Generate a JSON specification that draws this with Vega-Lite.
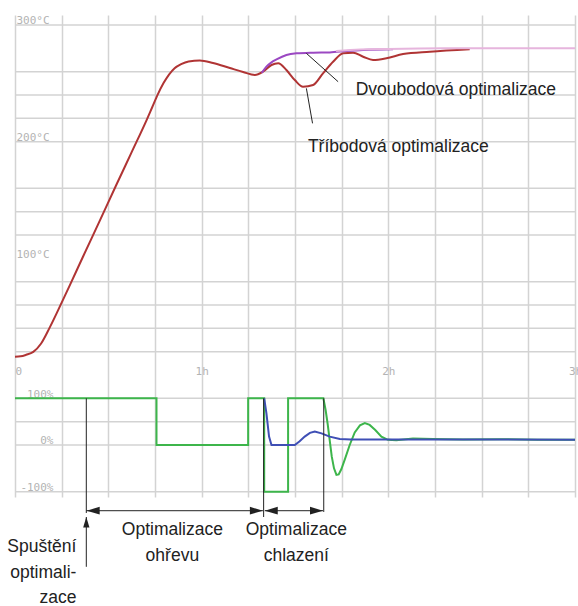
{
  "$schema": "https://vega.github.io/schema/vega-lite/v6.json",
  "width": 560,
  "height": 482,
  "autosize": "none",
  "padding": {"left": 15, "top": 15, "right": 3, "bottom": 109},
  "background": "white",
  "config": {"view": {"stroke": null}},
  "datasets": {
    "temp": [
      {"h": 0, "t": 15.7, "s": "three"}, {"h": 0.03, "t": 16, "s": "three"}, {"h": 0.06, "t": 17.3, "s": "three"},
      {"h": 0.098, "t": 19.8, "s": "three"}, {"h": 0.14, "t": 27, "s": "three"}, {"h": 0.187, "t": 41, "s": "three"},
      {"h": 0.25, "t": 62, "s": "three"}, {"h": 0.294, "t": 77, "s": "three"}, {"h": 0.366, "t": 102, "s": "three"},
      {"h": 0.455, "t": 132.5, "s": "three"}, {"h": 0.54, "t": 162, "s": "three"}, {"h": 0.625, "t": 191, "s": "three"},
      {"h": 0.705, "t": 218.5, "s": "three"}, {"h": 0.735, "t": 229.5, "s": "three"}, {"h": 0.765, "t": 240.5, "s": "three"},
      {"h": 0.795, "t": 250, "s": "three"}, {"h": 0.825, "t": 257.5, "s": "three"}, {"h": 0.855, "t": 263, "s": "three"},
      {"h": 0.89, "t": 266.5, "s": "three"}, {"h": 0.93, "t": 268.8, "s": "three"}, {"h": 0.99, "t": 269.6, "s": "three"},
      {"h": 1.061, "t": 267.4, "s": "three"}, {"h": 1.151, "t": 263.1, "s": "three"}, {"h": 1.222, "t": 259.7, "s": "three"},
      {"h": 1.285, "t": 257.1, "s": "three"}, {"h": 1.329, "t": 260, "s": "three"}, {"h": 1.374, "t": 265.7, "s": "three"},
      {"h": 1.41, "t": 267.2, "s": "three"}, {"h": 1.454, "t": 261.4, "s": "three"}, {"h": 1.499, "t": 252.8, "s": "three"},
      {"h": 1.543, "t": 247.1, "s": "three"}, {"h": 1.597, "t": 248.6, "s": "three"}, {"h": 1.65, "t": 258.6, "s": "three"},
      {"h": 1.704, "t": 268.5, "s": "three"}, {"h": 1.758, "t": 275.7, "s": "three"}, {"h": 1.811, "t": 276.3, "s": "three"},
      {"h": 1.865, "t": 272.8, "s": "three"}, {"h": 1.918, "t": 270, "s": "three"}, {"h": 1.99, "t": 271.5, "s": "three"},
      {"h": 2.079, "t": 275.1, "s": "three"}, {"h": 2.222, "t": 277.1, "s": "three"}, {"h": 2.436, "t": 279.2, "s": "three"},
      {"h": 1.322, "t": 259, "s": "two"}, {"h": 1.347, "t": 264.3, "s": "two"}, {"h": 1.374, "t": 268, "s": "two"},
      {"h": 1.401, "t": 270.5, "s": "two"}, {"h": 1.454, "t": 274.3, "s": "two"}, {"h": 1.508, "t": 275.7, "s": "two"},
      {"h": 1.597, "t": 276.3, "s": "two"}, {"h": 1.686, "t": 276.5, "s": "two"}, {"h": 1.776, "t": 277.7, "s": "two"},
      {"h": 1.865, "t": 278.6, "s": "two"}, {"h": 2.025, "t": 279.2, "s": "two"},
      {"h": 1.72, "t": 277.8, "s": "set"}, {"h": 1.85, "t": 279, "s": "set"}, {"h": 2.0, "t": 279.5, "s": "set"},
      {"h": 2.3, "t": 280, "s": "set"}, {"h": 3.0, "t": 280, "s": "set"}
    ],
    "out": [
      {"h": 0, "p": 100, "s": "three"}, {"h": 0.758, "p": 100, "s": "three"}, {"h": 0.758, "p": 0, "s": "three"},
      {"h": 1.249, "p": 0, "s": "three"}, {"h": 1.249, "p": 100, "s": "three"}, {"h": 1.335, "p": 100, "s": "three"},
      {"h": 1.335, "p": -100, "s": "three"}, {"h": 1.463, "p": -100, "s": "three"}, {"h": 1.463, "p": 100, "s": "three"},
      {"h": 1.652, "p": 100, "s": "three"}, {"h": 1.664, "p": 75, "s": "three"}, {"h": 1.675, "p": 45, "s": "three"},
      {"h": 1.686, "p": 10, "s": "three"}, {"h": 1.697, "p": -25, "s": "three"}, {"h": 1.709, "p": -50, "s": "three"},
      {"h": 1.722, "p": -64, "s": "three"}, {"h": 1.734, "p": -63, "s": "three"}, {"h": 1.748, "p": -52, "s": "three"},
      {"h": 1.766, "p": -32, "s": "three"}, {"h": 1.793, "p": 0, "s": "three"}, {"h": 1.82, "p": 27, "s": "three"},
      {"h": 1.848, "p": 42, "s": "three"}, {"h": 1.874, "p": 47, "s": "three"}, {"h": 1.9, "p": 43, "s": "three"},
      {"h": 1.93, "p": 32, "s": "three"}, {"h": 1.963, "p": 18, "s": "three"}, {"h": 1.998, "p": 11, "s": "three"},
      {"h": 2.043, "p": 10, "s": "three"}, {"h": 2.132, "p": 14, "s": "three"}, {"h": 2.239, "p": 13, "s": "three"},
      {"h": 2.4, "p": 12, "s": "three"}, {"h": 2.6, "p": 12.5, "s": "three"}, {"h": 2.8, "p": 11.5, "s": "three"},
      {"h": 3.0, "p": 11, "s": "three"},
      {"h": 1.335, "p": 100, "s": "two"}, {"h": 1.347, "p": 68, "s": "two"}, {"h": 1.361, "p": 18, "s": "two"},
      {"h": 1.374, "p": 0, "s": "two"}, {"h": 1.499, "p": 0, "s": "two"}, {"h": 1.525, "p": 8, "s": "two"},
      {"h": 1.552, "p": 18, "s": "two"}, {"h": 1.58, "p": 26, "s": "two"}, {"h": 1.606, "p": 29, "s": "two"},
      {"h": 1.642, "p": 25, "s": "two"}, {"h": 1.686, "p": 18, "s": "two"}, {"h": 1.74, "p": 13, "s": "two"},
      {"h": 1.8, "p": 12, "s": "two"}, {"h": 2.0, "p": 12, "s": "two"}, {"h": 2.5, "p": 12, "s": "two"},
      {"h": 3.0, "p": 11, "s": "two"}
    ],
    "grid": [
      {"t": 300}, {"t": 260}, {"t": 240}, {"t": 220}, {"t": 200}, {"t": 160}, {"t": 140}, {"t": 120},
      {"t": 80}, {"t": 60}, {"t": 40}, {"t": 20}, {"t": -20}, {"t": -40}, {"t": -60}, {"t": -100}
    ]
  },
  "layer": [
    {
      "layer": [
        {
          "data": {"name": "grid"},
          "mark": {"type": "rule", "color": "#d3d3d3", "strokeWidth": 1.5},
          "encoding": {
            "y": {"field": "t", "type": "quantitative",
              "scale": {"domain": [-104.571, 308.571], "nice": false, "zero": false},
              "axis": {
                "values": [100, 200, 300],
                "labelExpr": "datum.value + '°C'",
                "title": null, "domain": false, "ticks": false, "grid": false,
                "labelPadding": -1, "labelAlign": "left", "labelBaseline": "alphabetic", "labelOffset": -1,
                "labelFont": "DejaVu Sans Mono", "labelFontSize": 11, "labelColor": "#b3b3b3",
                "labelOverlap": false, "labelBound": false, "labelFlush": false
              }
            }
          }
        },
        {
          "data": {"name": "temp"},
          "mark": {"type": "line", "strokeWidth": 2, "interpolate": "monotone"},
          "encoding": {
            "x": {"field": "h", "type": "quantitative",
              "scale": {"domain": [0, 3], "nice": false, "zero": false},
              "axis": {
                "values": [0, 0.25, 0.5, 0.75, 1, 1.25, 1.5, 1.75, 2, 2.25, 2.5, 2.75, 3],
                "labelExpr": "datum.value == 0 ? '0' : (datum.value % 1 == 0 ? datum.value + 'h' : '')",
                "title": null, "domain": false, "ticks": false, "grid": true,
                "gridColor": "#d3d3d3", "gridWidth": 1.5,
                "offset": -123, "labelPadding": 0, "labelBaseline": "alphabetic",
                "labelAlign": {"condition": {"test": "datum.value == 0", "value": "left"}, "value": "center"},
                "labelFont": "DejaVu Sans Mono", "labelFontSize": 11, "labelColor": "#b3b3b3",
                "labelOverlap": false, "labelBound": false, "labelFlush": false
              }
            },
            "y": {"field": "t", "type": "quantitative"},
            "color": {"field": "s", "type": "nominal",
              "scale": {"domain": ["set", "three", "two"], "range": ["#e6b5dd", "#b03434", "#9b48c2"]},
              "legend": null}
          }
        },
        {
          "data": {"values": [
            {"h": 1.561, "t": 275.7, "h2": 1.731, "t2": 251.4},
            {"h": 1.561, "t": 245.7, "h2": 1.594, "t2": 215.7}
          ]},
          "mark": {"type": "rule", "color": "#222222", "strokeWidth": 1},
          "encoding": {
            "x": {"field": "h", "type": "quantitative"},
            "x2": {"field": "h2"},
            "y": {"field": "t", "type": "quantitative"},
            "y2": {"field": "t2"}
          }
        },
        {
          "data": {"values": [
            {"h": 1.825, "t": 240, "label": "Dvoubodová optimalizace"},
            {"h": 1.569, "t": 191.4, "label": "Tříbodová optimalizace"}
          ]},
          "mark": {"type": "text", "align": "left", "baseline": "alphabetic", "font": "Liberation Sans", "fontSize": 17.5, "color": "#222222"},
          "encoding": {
            "x": {"field": "h", "type": "quantitative"},
            "y": {"field": "t", "type": "quantitative"},
            "text": {"field": "label"}
          }
        }
      ]
    },
    {
      "layer": [
        {
          "data": {"name": "out"},
          "mark": {"type": "line", "strokeWidth": 2},
          "encoding": {
            "x": {"field": "h", "type": "quantitative"},
            "y": {"field": "p", "type": "quantitative",
              "scale": {"domain": [-111.43, 921.43], "nice": false, "zero": false},
              "axis": {
                "orient": "left",
                "values": [100, 0, -100],
                "labelExpr": "datum.value + '%'",
                "title": null, "domain": false, "ticks": false, "grid": false,
                "labelPadding": -38, "labelAlign": "right", "labelBaseline": "alphabetic", "labelOffset": -1,
                "labelFont": "DejaVu Sans Mono", "labelFontSize": 11, "labelColor": "#b3b3b3",
                "labelOverlap": false, "labelBound": false, "labelFlush": false
              }
            },
            "color": {"field": "s", "type": "nominal",
              "scale": {"domain": ["three", "two"], "range": ["#3db54b", "#3f4fb5"]},
              "legend": null},
            "order": {"value": null}
          }
        },
        {
          "data": {"values": [
            {"h": 0.382, "p": 100, "p2": -145.7},
            {"h": 1.332, "p": 100, "p2": -154.3},
            {"h": 1.654, "p": 100, "p2": -143.5},
            {"h": 0.382, "p": -154.3, "p2": -261}
          ]},
          "mark": {"type": "rule", "color": "#222222", "strokeWidth": 1},
          "encoding": {
            "x": {"field": "h", "type": "quantitative"},
            "y": {"field": "p", "type": "quantitative"},
            "y2": {"field": "p2"}
          }
        },
        {
          "data": {"values": [
            {"h": 0.382, "h2": 1.328, "p": -140.8},
            {"h": 1.338, "h2": 1.650, "p": -140.8}
          ]},
          "mark": {"type": "rule", "color": "#222222", "strokeWidth": 1},
          "encoding": {
            "x": {"field": "h", "type": "quantitative"},
            "x2": {"field": "h2"},
            "y": {"field": "p", "type": "quantitative"}
          }
        },
        {
          "data": {"values": [{"h": 0.384, "p": -140.8}, {"h": 1.338, "p": -140.8}]},
          "mark": {"type": "point", "shape": "M0,0L2,-0.6L2,0.6Z", "size": 169, "filled": true, "opacity": 1, "color": "#222222", "strokeWidth": 0},
          "encoding": {
            "x": {"field": "h", "type": "quantitative"},
            "y": {"field": "p", "type": "quantitative"}
          }
        },
        {
          "data": {"values": [{"h": 1.328, "p": -140.8}, {"h": 1.650, "p": -140.8}]},
          "mark": {"type": "point", "shape": "M0,0L-2,-0.6L-2,0.6Z", "size": 169, "filled": true, "opacity": 1, "color": "#222222", "strokeWidth": 0},
          "encoding": {
            "x": {"field": "h", "type": "quantitative"},
            "y": {"field": "p", "type": "quantitative"}
          }
        },
        {
          "data": {"values": [{"h": 0.382, "p": -154.3}]},
          "mark": {"type": "point", "shape": "M0,0L-0.6,2L0.6,2Z", "size": 110, "filled": true, "opacity": 1, "color": "#222222", "strokeWidth": 0},
          "encoding": {
            "x": {"field": "h", "type": "quantitative"},
            "y": {"field": "p", "type": "quantitative"}
          }
        },
        {
          "data": {"values": [
            {"h": 0.843, "p": -192.9, "label": "Optimalizace"},
            {"h": 0.843, "p": -248, "label": "ohřevu"},
            {"h": 1.507, "p": -192.9, "label": "Optimalizace"},
            {"h": 1.507, "p": -248, "label": "chlazení"}
          ]},
          "mark": {"type": "text", "align": "center", "baseline": "alphabetic", "font": "Liberation Sans", "fontSize": 17.5, "color": "#222222"},
          "encoding": {
            "x": {"field": "h", "type": "quantitative"},
            "y": {"field": "p", "type": "quantitative"},
            "text": {"field": "label"}
          }
        },
        {
          "data": {"values": [
            {"h": 0.329, "p": -229, "label": "Spuštění"},
            {"h": 0.329, "p": -285.7, "label": "optimali-"},
            {"h": 0.329, "p": -338.6, "label": "zace"}
          ]},
          "mark": {"type": "text", "align": "right", "baseline": "alphabetic", "font": "Liberation Sans", "fontSize": 17.5, "color": "#222222"},
          "encoding": {
            "x": {"field": "h", "type": "quantitative"},
            "y": {"field": "p", "type": "quantitative"},
            "text": {"field": "label"}
          }
        }
      ]
    }
  ],
  "resolve": {"scale": {"y": "independent", "color": "independent"}, "axis": {"y": "independent"}}
}
